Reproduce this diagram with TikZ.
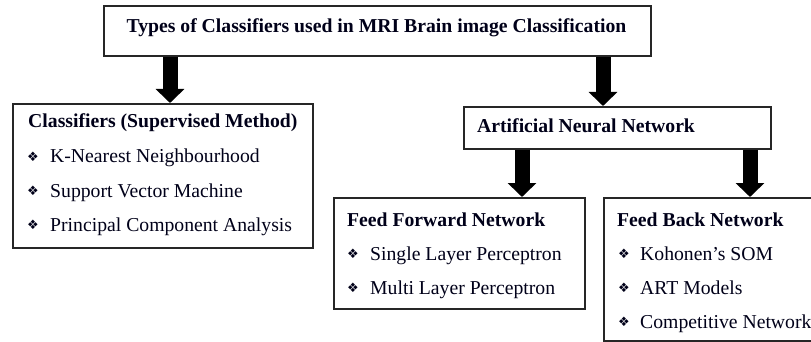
\documentclass[tikz,border=0pt]{standalone}
\usepackage{fontspec}
\setmainfont{Liberation Serif}
\newfontfamily\dejavu{DejaVu Sans}
\usetikzlibrary{arrows.meta}
\begin{document}
\begin{tikzpicture}[x=1pt,y=-1pt,
  box/.style={draw=black!85, line width=1.6pt, inner sep=0pt, anchor=north west, fill=white},
  bigarrow/.style={line width=15pt, -{Triangle[width=28pt,length=14pt]}},
  ttl/.style={anchor=base west, inner sep=0pt, text=black!90!blue, font=\fontsize{19.7}{20}\selectfont\bfseries},
  itm/.style={anchor=base west, inner sep=0pt, text=black!90!blue, font=\fontsize{19.7}{20}\selectfont},
  bulsty/.style={anchor=west, inner sep=0pt, text=black!90!blue, font=\dejavu\fontsize{13}{13}\selectfont}]
\useasboundingbox (0,0) rectangle (811,342);
\clip (0,0) rectangle (811,342);
\fill[white] (0,0) rectangle (811,342);
% boxes
\node[box, minimum width=547pt, minimum height=50pt] (top) at (103,5) {};
\node[box, minimum width=300pt, minimum height=144pt] (cls) at (12,103) {};
\node[box, minimum width=307pt, minimum height=42pt] (ann) at (463,106) {};
\node[box, minimum width=251pt, minimum height=111pt] (ff) at (333,197) {};
\node[box, minimum width=240pt, minimum height=143pt] (fb) at (603,197) {};
% arrows
\coordinate (c1) at (170,0);
\coordinate (c2) at (603,0);
\coordinate (c3) at (522,0);
\coordinate (c4) at (750,0);
\draw[bigarrow] (top.south -| c1) -- (cls.north -| c1);
\draw[bigarrow] (top.south -| c2) -- (ann.north -| c2);
\draw[bigarrow] (ann.south -| c3) -- (ff.north -| c3);
\draw[bigarrow] (ann.south -| c4) -- (fb.north -| c4);
% texts
\node[ttl, anchor=base] (ttop) at (376.5,33) {Types of Classifiers used in MRI Brain image Classification};
\node[ttl] (tcls) at (28,128) {Classifiers (Supervised Method)};
\node[bulsty] (b1) at (27,157) {❖};
\node[itm] (i1) at (50,163) {K-Nearest Neighbourhood};
\node[bulsty] (b2) at (27,191) {❖};
\node[itm] (i2) at (50,197) {Support Vector Machine};
\node[bulsty] (b3) at (27,225) {❖};
\node[itm] (i3) at (50,231) {Principal Component Analysis};
\node[ttl] (tann) at (477,133) {Artificial Neural Network};
\node[ttl] (tff) at (347,226) {Feed Forward Network};
\node[bulsty] (b4) at (347,254) {❖};
\node[itm] (i4) at (370,260) {Single Layer Perceptron};
\node[bulsty] (b5) at (347,288) {❖};
\node[itm] (i5) at (370,294) {Multi Layer Perceptron};
\node[ttl] (tfb) at (617,226) {Feed Back Network};
\node[bulsty] (b6) at (618,254) {❖};
\node[itm] (i6) at (640,260) {Kohonen’s SOM};
\node[bulsty] (b7) at (618,288) {❖};
\node[itm] (i7) at (640,294) {ART Models};
\node[bulsty] (b8) at (618,322) {❖};
\node[itm] (i8) at (640,328) {Competitive Network};
\end{tikzpicture}
\end{document}
